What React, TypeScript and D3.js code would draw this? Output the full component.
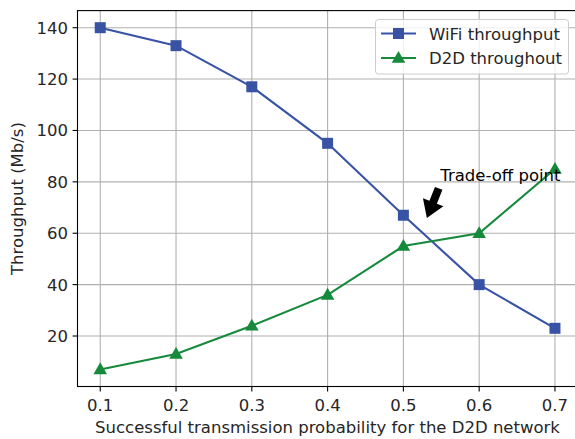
import { useRef, useEffect } from "react";
import * as d3 from "d3";

const probs = [0.1, 0.2, 0.3, 0.4, 0.5, 0.6, 0.7];
const wifiThroughput = [140, 133, 117, 95, 67, 40, 23];
const d2dThroughput = [7, 13, 24, 36, 55, 60, 85];
const xTicks = [0.1, 0.2, 0.3, 0.4, 0.5, 0.6, 0.7];
const yTicks = [20, 40, 60, 80, 100, 120, 140];
const seriesNames = ["WiFi throughput", "D2D throughout"];
const annotationText = "Trade-off point";
const annotationXY = [0.531, 65.9];
const annotationTextXY = [0.55, 80];

const W = 575;
const H = 439;
const FONT = "DejaVu Sans, sans-serif";
const FS = 16.5;
const BLUE = "#3953a4";
const GREEN = "#168a3c";

export default function App() {
  const svgRef = useRef<SVGSVGElement>(null);

  useEffect(() => {
    document.body.style.margin = "0";
    const svg = d3.select(svgRef.current);
    svg.selectAll("*").remove();

    const left = 77.5;
    const right = 577.7;
    const top = 10.6;
    const bottom = 386.5;

    const x = d3.scaleLinear().domain([0.07, 0.73]).range([left, right]);
    const y = d3.scaleLinear().domain([0.35, 146.65]).range([bottom, top]);

    const g = svg.append("g");

    // grid
    g.selectAll("line.gx")
      .data(xTicks)
      .join("line")
      .attr("x1", (d) => x(d))
      .attr("x2", (d) => x(d))
      .attr("y1", top)
      .attr("y2", bottom)
      .attr("stroke", "#b0b0b0")
      .attr("stroke-width", 1.1);
    g.selectAll("line.gy")
      .data(yTicks)
      .join("line")
      .attr("x1", left)
      .attr("x2", right)
      .attr("y1", (d) => y(d))
      .attr("y2", (d) => y(d))
      .attr("stroke", "#b0b0b0")
      .attr("stroke-width", 1.1);

    // spines
    g.append("rect")
      .attr("x", left)
      .attr("y", top)
      .attr("width", right - left)
      .attr("height", bottom - top)
      .attr("fill", "none")
      .attr("stroke", "#000")
      .attr("stroke-width", 1.1);

    // ticks
    g.selectAll("line.tx")
      .data(xTicks)
      .join("line")
      .attr("x1", (d) => x(d))
      .attr("x2", (d) => x(d))
      .attr("y1", bottom)
      .attr("y2", bottom + 4.9)
      .attr("stroke", "#000")
      .attr("stroke-width", 1.1);
    g.selectAll("text.tx")
      .data(xTicks)
      .join("text")
      .attr("x", (d) => x(d))
      .attr("y", 410.5)
      .attr("text-anchor", "middle")
      .attr("font-family", FONT)
      .attr("font-size", FS)
      .attr("fill", "#262626")
      .text((d) => d.toFixed(1));
    g.selectAll("line.ty")
      .data(yTicks)
      .join("line")
      .attr("x1", left - 4.9)
      .attr("x2", left)
      .attr("y1", (d) => y(d))
      .attr("y2", (d) => y(d))
      .attr("stroke", "#000")
      .attr("stroke-width", 1.1);
    g.selectAll("text.ty")
      .data(yTicks)
      .join("text")
      .attr("x", left - 9.5)
      .attr("y", (d) => y(d) + 6)
      .attr("text-anchor", "end")
      .attr("font-family", FONT)
      .attr("font-size", FS)
      .attr("fill", "#262626")
      .text((d) => d);

    // axis labels
    g.append("text")
      .attr("x", 327.5)
      .attr("y", 433)
      .attr("text-anchor", "middle")
      .attr("font-family", FONT)
      .attr("font-size", FS)
      .attr("fill", "#262626")
      .text("Successful transmission probability for the D2D network");
    g.append("text")
      .attr("transform", `translate(22.5,${(top + bottom) / 2}) rotate(-90)`)
      .attr("text-anchor", "middle")
      .attr("font-family", FONT)
      .attr("font-size", FS)
      .attr("fill", "#262626")
      .text("Throughput (Mb/s)");

    const line = d3
      .line<number>()
      .x((_, i) => x(probs[i]))
      .y((d) => y(d));

    const tri = d3.symbol().type(d3.symbolTriangle).size(80);

    const drawSeries = (vals: number[], color: string, marker: "square" | "tri") => {
      g.append("path")
        .attr("d", line(vals))
        .attr("fill", "none")
        .attr("stroke", color)
        .attr("stroke-width", 2.1);
      if (marker === "square") {
        g.selectAll(null)
          .data(vals)
          .join("rect")
          .attr("x", (_, i) => x(probs[i]) - 5.5)
          .attr("y", (d) => y(d) - 5.5)
          .attr("width", 11)
          .attr("height", 11)
          .attr("fill", color);
      } else {
        g.selectAll(null)
          .data(vals)
          .join("path")
          .attr("d", tri)
          .attr("transform", (d, i) => `translate(${x(probs[i])},${y(d) + 0.8})`)
          .attr("fill", color);
      }
    };
    drawSeries(wifiThroughput, BLUE, "square");
    drawSeries(d2dThroughput, GREEN, "tri");

    // annotation arrow
    const tx = x(annotationTextXY[0]);
    const ty = y(annotationTextXY[1]);
    const px = x(annotationXY[0]);
    const py = y(annotationXY[1]);
    const full = Math.hypot(px - tx, py - ty);
    const shrinkA = 7;
    const len = full - shrinkA;
    const ang = (Math.atan2(py - ty, px - tx) * 180) / Math.PI;
    const hw = 4;
    const headW = 11;
    const headL = 17;
    g.append("path")
      .attr(
        "d",
        `M0,${-hw} L${len - headL},${-hw} L${len - headL},${-headW} L${len},0 L${len - headL},${headW} L${len - headL},${hw} L0,${hw} Z`
      )
      .attr("transform", `translate(${tx},${ty}) rotate(${ang}) translate(${shrinkA},0)`)
      .attr("fill", "#000");
    g.append("text")
      .attr("x", tx - 1)
      .attr("y", ty - 0.5)
      .attr("font-family", FONT)
      .attr("font-size", FS)
      .attr("fill", "#000")
      .text(annotationText);

    // legend
    const lg = g.append("g");
    lg.append("rect")
      .attr("x", 375.5)
      .attr("y", 19.5)
      .attr("width", 193)
      .attr("height", 54.5)
      .attr("rx", 3)
      .attr("fill", "rgba(255,255,255,0.8)")
      .attr("stroke", "#cccccc")
      .attr("stroke-width", 1);
    const colors = [BLUE, GREEN];
    seriesNames.forEach((name, i) => {
      const ly = 33.5 + i * 24.5;
      lg.append("line")
        .attr("x1", 381)
        .attr("x2", 416)
        .attr("y1", ly)
        .attr("y2", ly)
        .attr("stroke", colors[i])
        .attr("stroke-width", 2.1);
      if (i === 0) {
        lg.append("rect")
          .attr("x", 398.5 - 5.5)
          .attr("y", ly - 5.5)
          .attr("width", 11)
          .attr("height", 11)
          .attr("fill", colors[i]);
      } else {
        lg.append("path")
          .attr("d", tri)
          .attr("transform", `translate(398.5,${ly + 0.8})`)
          .attr("fill", colors[i]);
      }
      lg.append("text")
        .attr("x", 429)
        .attr("y", ly + 6)
        .attr("font-family", FONT)
        .attr("font-size", FS)
        .attr("fill", "#262626")
        .text(name);
    });
  }, []);

  return <svg ref={svgRef} width={W} height={H} style={{ display: "block", background: "#fff" }} />;
}
